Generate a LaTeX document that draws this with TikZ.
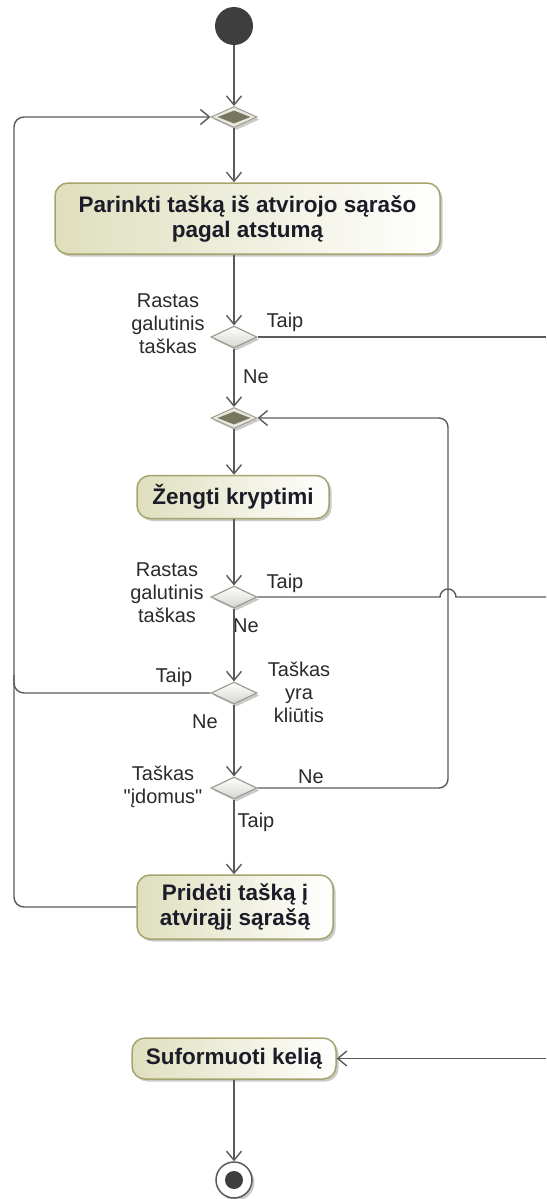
\documentclass[tikz,border=0pt]{standalone}
\usepackage{fontspec}
\setmainfont{Liberation Sans}
\newfontfamily\labfont{Liberation Sans}
\usetikzlibrary{shapes.geometric,arrows.meta,shadows}
\definecolor{lineC}{HTML}{5A5A5A}
\definecolor{actL}{HTML}{DFDFBE}
\definecolor{actB}{HTML}{A4A46C}
\definecolor{decB}{HTML}{9E9E90}
\definecolor{decF}{HTML}{D4D4D0}
\definecolor{mrgI}{HTML}{77775F}
\definecolor{mrgO}{HTML}{E8E8E0}
\definecolor{dotC}{HTML}{3E3E3E}
\definecolor{txtC}{HTML}{1C1C28}
\definecolor{labC}{HTML}{2A2A2A}
\begin{document}
\begin{tikzpicture}[x=1pt,y=1pt,
  conn/.style={draw=lineC, line width=1.4pt},
  arr/.style={conn, -{Straight Barb[length=9pt,width=15pt,line width=1.4pt]}},
  shad/.style={drop shadow={shadow xshift=2.5pt,shadow yshift=-2.5pt,opacity=0.35,fill=black!60}},
  act/.style={rectangle, rounded corners=13pt, draw=actB, line width=1.5pt,
    left color=actL, right color=white, shad,
    font=\fontsize{22.5}{25}\selectfont\bfseries, text=txtC, align=center, inner sep=0pt},
  dec/.style={diamond, minimum width=46pt, minimum height=22pt, inner sep=0pt,
    draw=decB, line width=1.2pt, top color=white, bottom color=decF, shad},
  mrg/.style={diamond, minimum width=46pt, minimum height=21pt, inner sep=0pt,
    draw=decB, line width=1pt, fill=mrgO, shad},
  mrgin/.style={diamond, minimum width=33pt, minimum height=13pt, inner sep=0pt, fill=mrgI},
  lab/.style={font=\labfont\fontsize{20}{23}\selectfont, text=labC, align=center, inner sep=0pt}
]
\useasboundingbox (0,0) rectangle (546,-1199);

% nodes
\node[circle, fill=dotC, minimum size=38pt, inner sep=0pt] (init) at (234,-26) {};
\node[mrg] (m1) at (234,-117) {};
\node[mrgin] (m1i) at (234,-117) {};
\node[act, minimum width=385pt, minimum height=71pt] (a1) at (247.5,-218.5)
  {Parinkti tašką iš atvirojo sąrašo\\pagal atstumą};
\node[dec] (d1) at (234,-337) {};
\node[mrg] (m2) at (234,-418) {};
\node[mrgin] (m2i) at (234,-418) {};
\node[act, minimum width=192pt, minimum height=43pt] (a2) at (233,-497) {Žengti kryptimi};
\node[dec] (d2) at (234,-597) {};
\node[dec] (d3) at (234,-693) {};
\node[dec] (d4) at (234,-788) {};
\node[act, minimum width=196pt, minimum height=64pt] (a3) at (235,-907)
  {Pridėti tašką į\\atvirąjį sąrašą};
\node[act, minimum width=204pt, minimum height=41pt] (a4) at (234,-1058.5) {Suformuoti kelią};
\node[circle, draw=lineC, line width=1.5pt, fill=white, minimum size=36pt, inner sep=0pt, shad] (fin) at (234,-1180) {};
\node[circle, fill=dotC, minimum size=18pt, inner sep=0pt] (fini) at (234,-1180) {};

\coordinate (r1) at (546,-337);
\coordinate (r2) at (546,-597);
\coordinate (r3) at (546,-1058.5);

% labels
\node[lab] (l1) at (168,-324) {Rastas\\galutinis\\taškas};
\node[lab] (l2) at (285,-322) {Taip};
\node[lab] (l3) at (256,-377) {Ne};
\node[lab] (l4) at (167,-593) {Rastas\\galutinis\\taškas};
\node[lab] (l5) at (285,-583) {Taip};
\node[lab] (l6) at (246,-626) {Ne};
\node[lab] (l7) at (174,-677) {Taip};
\node[lab] (l8) at (299,-692) {Taškas\\yra\\kliūtis};
\node[lab] (l9) at (205,-722) {Ne};
\node[lab] (l10) at (163,-786.5) {Taškas\\"įdomus"};
\node[lab] (l11) at (311,-777) {Ne};
\node[lab] (l12) at (256,-822) {Taip};

% connectors
\draw[arr] (init) -- (m1);
\draw[arr] (m1) -- (m1.south |- a1.north);
\draw[arr] (m1.south |- a1.south) -- (d1);
\draw[conn] (d1.east) -- (r1);
\draw[arr] (d1) -- (m2);
\draw[arr] (m2) -- (m2.south |- a2.north);
\draw[arr] (m2.south |- a2.south) -- (d2);
\draw[conn] (d2.east) -- (440,-597) arc[start angle=180,end angle=0,radius=8] -- (r2);
\draw[arr] (d2) -- (d3);
\draw[conn, rounded corners=10pt] (d3.west) -- (14,-693) -- (14,-675);
\draw[arr] (d3) -- (d4);
\draw[arr, rounded corners=9pt] (d4.east) -- (448,-788) -- (448,-418) -- (m2.east);
\draw[arr] (d4) -- (d4.south |- a3.north);
\draw[arr, rounded corners=10pt] (a3.west) -- (14,-907) -- (14,-117) -- (m1.west);
\draw[arr] (r3) -- (a4.east);
\draw[arr] (a4) -- (fin);
\end{tikzpicture}
\end{document}
